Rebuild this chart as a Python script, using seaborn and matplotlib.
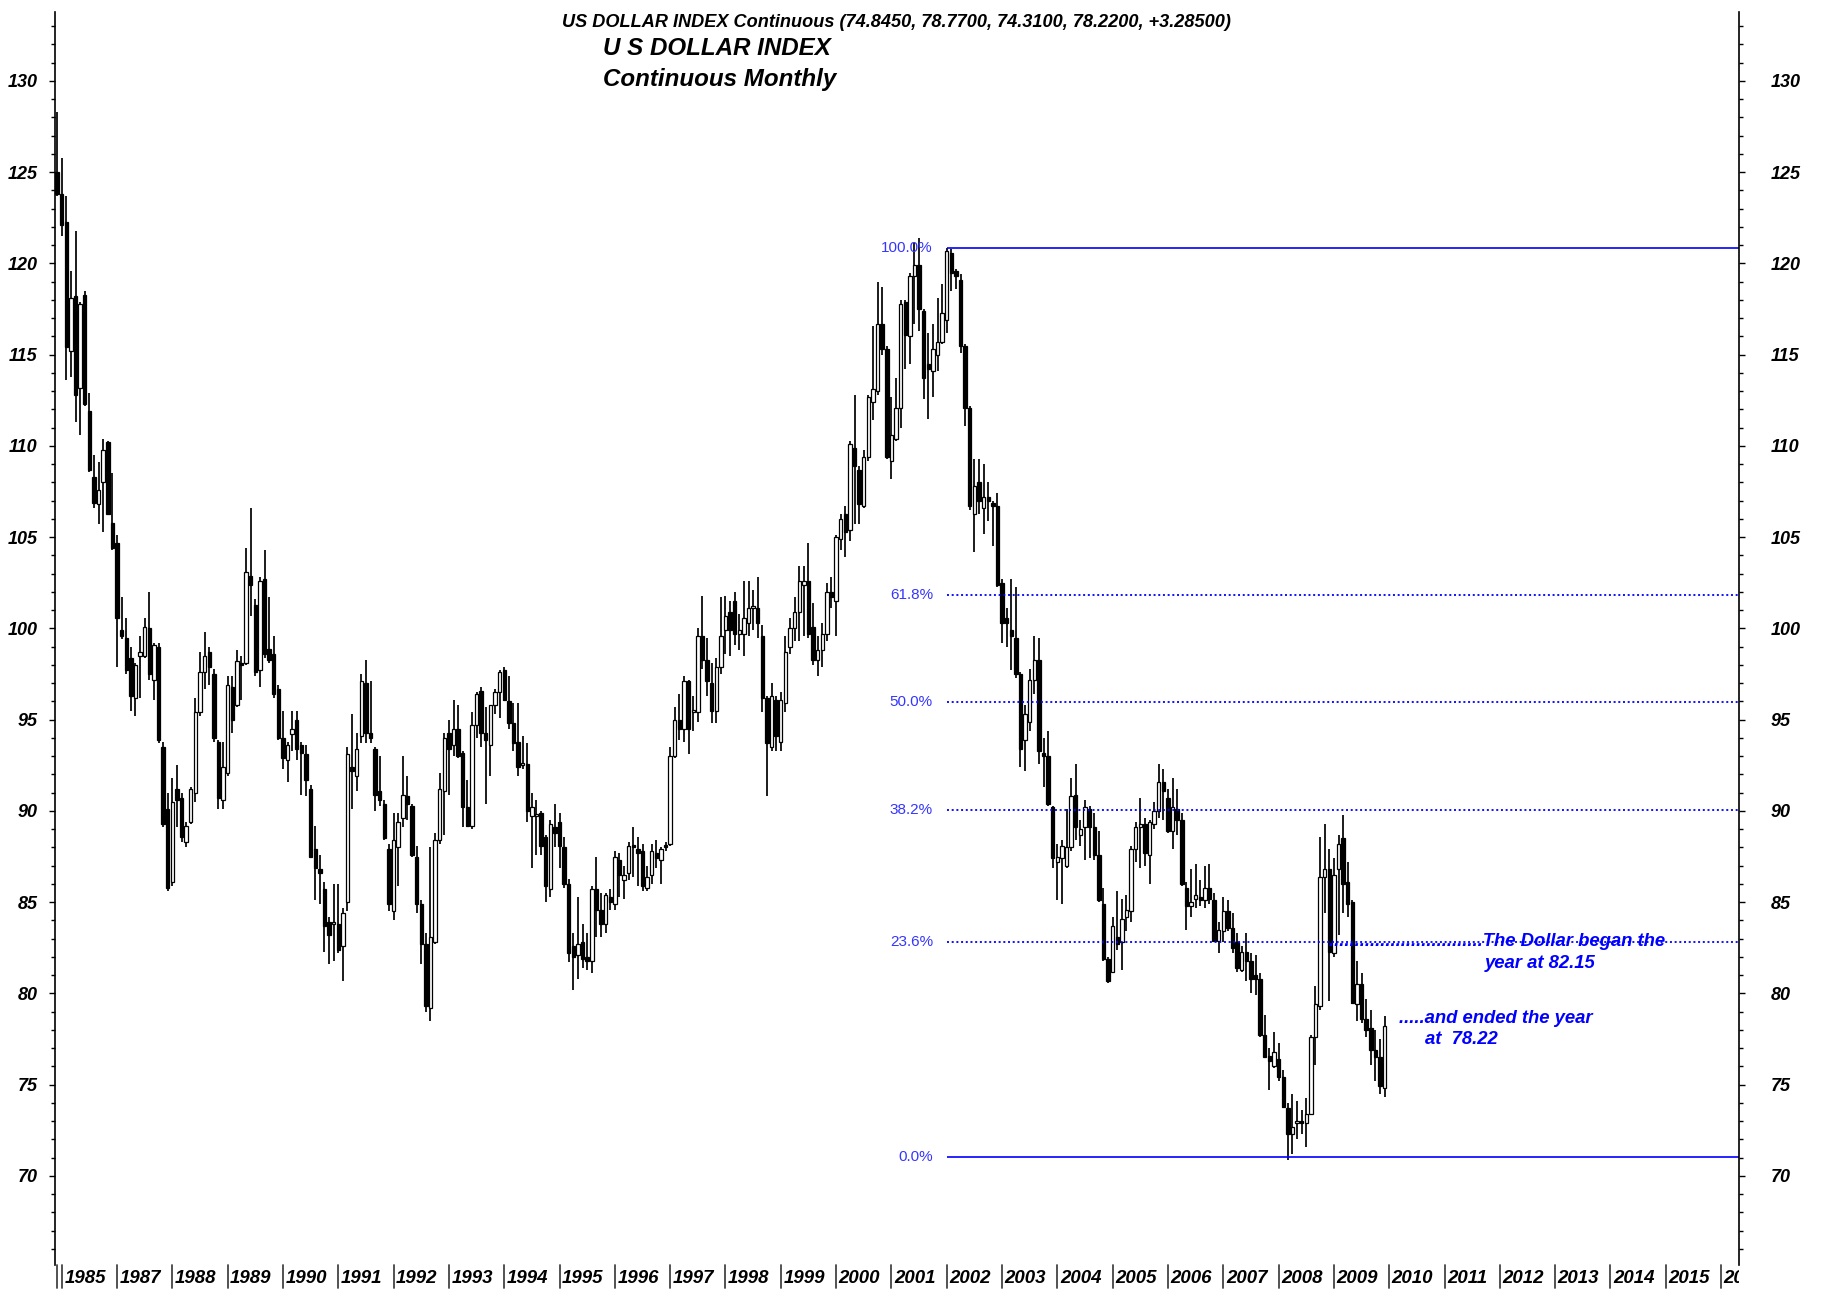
import numpy as np
import pandas as pd
import matplotlib
matplotlib.use("Agg")
import matplotlib.pyplot as plt
import matplotlib.transforms as mtransforms
from matplotlib.ticker import MultipleLocator, FormatStrFormatter
import seaborn as sns

# monthly candles, first bar is Dec 1985, last is Dec 2009
first_month = "1985-12"

opens = [
    125.0,
    123.8, 122.3, 115.2, 118.2, 113.2, 118.3, 111.9, 108.3, 106.8, 108.0, 110.2, 105.8,  # 1986
    104.7, 99.9, 99.5, 98.4, 96.2, 98.5, 98.5, 100.0, 97.2, 99.0, 93.5, 90.1,  # 1987
    86.1, 91.2, 90.7, 88.3, 89.4, 91.0, 95.4, 97.6, 98.7, 97.5, 93.8, 90.6,  # 1988
    92.1, 96.8, 95.8, 98.1, 98.1, 102.9, 101.3, 97.7, 102.7, 98.9, 98.6, 96.7,  # 1989
    94.0, 92.8, 94.2, 95.0, 93.6, 93.1, 91.2, 87.9, 86.8, 85.7, 83.9, 83.8,  # 1990
    83.8, 82.6, 85.0, 92.4, 91.9, 94.1, 97.0, 94.3, 93.4, 91.1, 90.4, 87.9,  # 1991
    84.5, 88.0, 89.6, 90.8, 90.3, 87.5, 84.9, 82.7, 79.2, 82.8, 88.4, 91.1,  # 1992
    94.3, 93.6, 94.5, 93.2, 90.2, 89.2, 94.7, 96.6, 94.3, 93.6, 95.8, 96.5,  # 1993
    97.7, 96.0, 94.8, 93.8, 92.5, 92.6, 89.7, 89.7, 89.9, 88.6, 85.7, 89.1,  # 1994
    89.4, 88.0, 86.0, 82.6, 82.1, 82.8, 82.0, 81.8, 85.7, 84.6, 83.8, 85.3,  # 1995
    84.9, 87.3, 86.2, 86.6, 88.1, 87.9, 87.8, 85.8, 86.5, 87.7, 87.3, 88.1,  # 1996
    88.2, 93.0, 95.0, 94.5, 97.1, 95.4, 95.4, 99.6, 98.3, 97.0, 95.5, 97.9,  # 1997
    99.9, 100.9, 101.5, 99.7, 99.7, 100.3, 101.1, 101.1, 99.6, 96.2, 93.5, 96.1,  # 1998
    93.8, 95.9, 99.0, 100.0, 100.9, 102.4, 102.6, 100.1, 98.3, 98.8, 99.7, 102.0,  # 1999
    101.5, 104.9, 106.3, 105.4, 109.9, 108.7, 106.7, 109.4, 112.4, 113.0, 116.7, 115.3,  # 2000
    109.2, 110.4, 112.1, 117.9, 116.0, 119.3, 119.9, 117.4, 114.5, 114.1, 115.0, 115.7,  # 2001
    116.9, 120.6, 119.6, 119.1, 115.5, 112.1, 106.3, 108.0, 106.6, 107.2, 106.9, 106.7,  # 2002
    102.5, 100.6, 99.9, 99.5, 97.5, 93.9, 94.9, 97.2, 98.3, 93.2, 93.0, 90.2,  # 2003
    87.2, 87.4, 87.0, 88.0, 90.9, 88.7, 89.1, 90.1, 89.1, 87.6, 84.9, 81.9,  # 2004
    81.2, 83.1, 82.8, 84.2, 84.5, 87.9, 89.1, 89.3, 87.6, 89.3, 90.0, 91.6,  # 2005
    90.7, 88.9, 90.1, 89.5, 85.8, 84.8, 85.2, 85.3, 85.1, 85.8, 85.1, 82.9,  # 2006
    83.4, 84.5, 83.6, 82.8, 81.3, 82.3, 81.8, 81.0, 80.8, 77.7, 76.6, 76.0,  # 2007
    76.4, 75.4, 73.7, 72.3, 72.9, 73.0, 72.9, 73.4, 77.6, 79.3, 86.4, 86.8,  # 2008
    82.2, 86.8, 88.5, 86.1, 85.0, 79.4, 80.5, 78.6, 78.1, 76.9, 76.5, 74.845,  # 2009
]

highs = [
    128.3,
    125.8, 123.7, 119.6, 121.8, 117.9, 118.5, 112.9, 109.5, 109.1, 110.4, 110.3, 108.5,
    105.1, 101.7, 100.6, 99.0, 98.1, 99.6, 100.6, 102.0, 99.2, 99.2, 93.8, 91.0,
    91.8, 92.5, 91.0, 89.4, 91.3, 96.2, 98.7, 99.8, 99.0, 97.8, 93.9, 93.8,
    97.4, 97.4, 98.8, 98.5, 104.4, 106.6, 101.6, 102.8, 104.3, 101.7, 99.6, 96.9,
    95.5, 93.8, 95.5, 95.5, 93.8, 93.6, 91.4, 89.2, 87.6, 86.1, 84.2, 86.0,
    86.0, 84.7, 93.5, 95.3, 94.3, 97.5, 98.3, 97.1, 93.5, 93.0, 90.6, 88.2,
    89.9, 89.9, 93.0, 91.9, 90.4, 88.1, 85.1, 83.3, 88.0, 88.8, 92.1, 94.3,
    95.0, 96.1, 95.8, 93.3, 91.7, 95.4, 96.5, 96.8, 95.7, 95.8, 96.7, 97.7,
    97.9, 97.4, 95.9, 95.9, 94.1, 93.7, 91.0, 90.6, 90.0, 88.7, 89.5, 90.4,
    89.9, 88.6, 86.3, 83.3, 85.3, 83.8, 83.3, 85.9, 87.5, 85.5, 85.5, 85.7,
    87.8, 87.7, 87.0, 88.3, 89.1, 88.6, 88.2, 87.0, 88.2, 88.4, 88.0, 88.3,
    93.5, 95.7, 96.4, 97.4, 97.2, 96.3, 100.0, 101.8, 99.5, 98.1, 98.4, 101.7,
    101.8, 101.5, 102.0, 100.8, 102.6, 102.6, 102.1, 102.8, 100.2, 96.3, 97.0, 96.3,
    96.5, 99.6, 100.6, 101.7, 103.4, 103.4, 104.7, 101.4, 99.6, 100.3, 102.5, 102.8,
    105.1, 106.3, 106.7, 110.3, 112.8, 108.9, 109.8, 112.8, 116.6, 119.0, 118.7, 115.5,
    112.7, 113.7, 118.0, 118.0, 119.5, 121.1, 121.4, 117.5, 116.2, 116.7, 118.1, 118.9,
    120.87, 120.8, 119.7, 119.4, 115.6, 112.2, 109.3, 109.3, 109.0, 108.0, 107.0, 107.4,
    102.7, 101.1, 102.7, 102.3, 97.6, 95.8, 97.8, 99.6, 99.5, 94.0, 94.4, 90.3,
    88.2, 88.4, 90.1, 91.8, 92.6, 89.5, 90.6, 90.3, 89.9, 88.9, 85.8, 82.0,
    84.2, 85.6, 85.2, 85.4, 88.1, 89.4, 90.7, 89.6, 89.5, 90.5, 92.6, 92.3,
    91.2, 91.8, 91.2, 89.9, 86.1, 86.8, 87.1, 86.2, 87.0, 87.1, 85.5, 83.9,
    85.3, 85.1, 84.4, 83.3, 82.6, 83.3, 82.2, 82.1, 81.1, 78.8, 77.0, 77.9,
    77.3, 75.8, 74.0, 74.5, 74.1, 73.6, 74.3, 77.7, 80.4, 88.6, 89.3, 87.9,
    87.4, 88.7, 89.8, 87.2, 85.1, 81.8, 81.1, 79.7, 79.1, 78.0, 77.5, 78.77,
]

lows = [
    123.7,
    121.5, 113.6, 113.8, 111.3, 110.6, 112.2, 108.6, 106.6, 105.7, 105.3, 106.2, 104.3,
    97.9, 99.4, 97.5, 95.5, 95.2, 96.2, 98.4, 97.2, 96.1, 93.7, 89.1, 85.6,
    85.9, 89.1, 88.3, 88.0, 89.3, 90.5, 95.2, 96.7, 96.9, 93.8, 90.1, 90.1,
    91.9, 94.3, 95.7, 96.1, 98.0, 100.7, 97.4, 96.8, 98.4, 98.1, 96.2, 93.9,
    92.3, 91.6, 93.3, 92.8, 90.9, 90.8, 87.4, 85.1, 84.9, 82.3, 81.6, 81.8,
    82.2, 80.7, 84.5, 90.1, 91.1, 93.7, 93.7, 93.7, 90.0, 90.3, 88.4, 84.5,
    84.0, 85.9, 89.1, 89.5, 87.5, 84.4, 81.6, 79.0, 78.5, 82.7, 88.2, 88.7,
    90.9, 93.0, 92.9, 89.1, 89.1, 89.0, 94.0, 93.5, 90.4, 91.9, 95.3, 95.1,
    96.0, 94.5, 93.3, 91.9, 92.3, 89.4, 86.9, 87.6, 87.6, 85.0, 85.3, 88.0,
    86.9, 85.8, 81.7, 80.2, 80.8, 81.4, 81.3, 81.1, 83.1, 83.1, 83.3, 84.6,
    84.6, 85.3, 85.2, 86.2, 86.4, 85.9, 85.6, 85.6, 86.0, 86.9, 86.0, 87.8,
    88.1, 92.9, 93.9, 93.8, 93.1, 94.4, 94.9, 97.8, 96.3, 94.8, 94.8, 97.5,
    98.6, 98.5, 99.1, 98.8, 98.5, 99.6, 99.9, 99.5, 95.4, 90.8, 93.3, 93.3,
    93.3, 95.4, 98.6, 99.3, 99.3, 99.6, 99.5, 98.0, 97.4, 97.9, 99.3, 101.1,
    99.6, 104.3, 103.9, 104.8, 105.7, 105.7, 106.6, 109.2, 111.4, 112.8, 115.0, 109.3,
    108.2, 110.3, 111.0, 114.2, 114.5, 116.7, 116.3, 112.6, 111.5, 112.7, 114.1, 115.6,
    116.2, 118.5, 118.6, 115.1, 111.1, 106.5, 104.2, 106.3, 105.2, 105.9, 104.5, 102.3,
    99.2, 99.0, 97.7, 97.3, 92.4, 92.2, 94.4, 96.4, 92.6, 91.3, 90.3, 86.9,
    85.1, 84.9, 86.9, 87.8, 88.4, 88.1, 87.3, 87.4, 87.3, 85.0, 81.8, 80.6,
    81.1, 82.4, 81.3, 83.4, 83.9, 87.2, 86.9, 87.0, 86.0, 89.0, 89.6, 89.5,
    88.8, 87.9, 88.7, 85.9, 83.5, 84.2, 84.7, 84.8, 84.7, 84.9, 82.8, 82.2,
    82.8, 83.4, 82.2, 81.2, 81.2, 80.7, 80.0, 79.9, 77.6, 76.5, 74.7, 75.9,
    75.2, 73.7, 70.88, 71.2, 72.0, 72.3, 71.6, 73.4, 76.1, 79.1, 84.4, 79.6,
    82.0, 83.2, 84.4, 84.2, 79.4, 78.5, 78.4, 77.6, 76.1, 75.2, 74.5, 74.31,
]

closes = [
    123.8,
    122.1, 115.4, 118.1, 112.8, 117.8, 112.3, 108.7, 106.9, 107.6, 109.8, 106.3, 104.4,
    100.6, 99.6, 97.7, 96.3, 98.0, 98.7, 100.1, 97.5, 99.1, 93.9, 89.3, 85.8,
    90.5, 90.6, 88.6, 89.2, 91.2, 95.4, 97.6, 98.5, 97.9, 94.0, 90.7, 92.4,
    96.9, 95.0, 98.2, 98.0, 103.1, 102.4, 97.6, 102.6, 98.6, 98.3, 96.4, 94.0,
    92.9, 93.6, 94.5, 93.4, 93.2, 91.7, 87.5, 86.9, 86.6, 83.7, 83.2, 83.9,
    82.4, 84.4, 93.1, 92.2, 93.4, 97.1, 94.3, 94.0, 90.9, 90.6, 88.5, 84.9,
    88.4, 89.4, 90.9, 90.4, 87.6, 84.9, 82.7, 79.3, 83.1, 88.4, 91.2, 94.0,
    93.4, 94.5, 93.0, 90.2, 89.2, 94.7, 96.4, 94.3, 93.9, 95.8, 96.5, 97.6,
    96.1, 94.8, 93.7, 92.4, 92.6, 90.0, 90.2, 89.8, 88.1, 85.9, 89.3, 88.8,
    88.1, 86.0, 82.2, 82.0, 82.7, 81.9, 81.8, 85.7, 84.6, 83.8, 85.4, 85.0,
    87.5, 86.5, 86.5, 88.1, 88.0, 87.7, 85.9, 86.4, 87.8, 87.4, 87.9, 88.0,
    93.0, 95.0, 94.5, 97.1, 94.5, 95.5, 99.6, 98.3, 97.1, 95.5, 97.9, 99.6,
    100.7, 99.9, 99.7, 99.9, 100.6, 101.1, 101.2, 100.3, 96.2, 93.7, 96.3, 94.1,
    96.1, 98.7, 100.0, 100.9, 102.6, 102.6, 99.7, 98.3, 98.8, 99.7, 102.0, 101.7,
    105.0, 106.0, 105.3, 110.1, 108.9, 106.8, 109.4, 112.7, 113.1, 116.7, 115.3, 109.4,
    110.6, 112.1, 117.8, 116.1, 119.3, 119.9, 117.5, 113.7, 114.2, 115.3, 115.7, 117.3,
    120.7, 119.5, 119.3, 115.5, 112.1, 106.7, 107.8, 107.0, 107.2, 107.0, 106.7, 102.4,
    100.3, 100.3, 99.6, 97.5, 93.4, 95.3, 97.2, 98.3, 93.3, 93.0, 90.4, 87.4,
    87.5, 88.1, 88.0, 90.8, 89.1, 89.0, 90.2, 89.1, 87.6, 85.1, 81.9, 80.7,
    83.7, 82.7, 84.1, 84.6, 87.9, 89.1, 89.3, 87.7, 89.4, 90.0, 91.6, 91.1,
    88.9, 90.2, 89.5, 86.0, 84.8, 85.0, 85.4, 85.1, 85.8, 85.2, 82.9, 83.5,
    84.5, 83.6, 82.5, 81.4, 82.3, 81.8, 80.8, 80.8, 77.7, 76.5, 76.3, 76.8,
    75.4, 73.8, 72.3, 72.7, 73.0, 72.9, 73.4, 77.6, 79.4, 86.4, 86.8, 82.3,
    86.5, 88.2, 86.0, 84.9, 79.5, 80.5, 78.6, 78.0, 76.9, 76.5, 74.94, 78.22,
]

# retracement drawn from the Jan 2002 high down to the 2008 low
fib_high = 120.87
fib_low = 71.04
fib_start = "2002-01"
fib_ratios = [0.0, 0.236, 0.382, 0.5, 0.618, 1.0]
fib_labels = ["0.0%", "23.6%", "38.2%", "50.0%", "61.8%", "100.0%"]

year_labels = [1985] + list(range(1987, 2017))

title_top = "US DOLLAR INDEX Continuous (74.8450, 78.7700, 74.3100, 78.2200, +3.28500)"
title_1 = "U S DOLLAR INDEX"
title_2 = "Continuous Monthly"
note_began = ".............................." + "The Dollar began the"
note_began_2 = "year at 82.15"
note_ended = ".....and ended the year"
note_ended_2 = "at  78.22"


def month_idx(period):
    # months counted from Jan 1985
    return (period.year - 1985) * 12 + period.month - 1


sns.set_theme(style="white")
plt.rcParams["font.family"] = ["Liberation Sans", "DejaVu Sans"]
plt.rcParams["font.weight"] = "bold"
plt.rcParams["font.style"] = "italic"
plt.rcParams["text.color"] = "black"
plt.rcParams["ytick.color"] = "black"
plt.rcParams["ytick.labelcolor"] = "black"

dates = pd.period_range(first_month, periods=len(closes), freq="M")
df = pd.DataFrame({"date": dates, "open": opens, "high": highs,
                   "low": lows, "close": closes})
df["x"] = (df["date"].dt.year - 1985) * 12 + df["date"].dt.month - 1
df["up"] = df["close"] >= df["open"]
df["bottom"] = df[["open", "close"]].min(axis=1)
df["body"] = (df["close"] - df["open"]).abs().clip(lower=0.12)

fig = plt.figure(figsize=(18.22, 12.91), dpi=100)
ax = fig.add_axes([0.0302, 0.0201, 0.9243, 0.9706])
ax.set_facecolor("white")

# candles
ax.vlines(df["x"], df["low"], df["high"], color="black", lw=1.25, zorder=2)
ax.bar(df["x"], df["body"], bottom=df["bottom"], width=0.74,
       color=np.where(df["up"], "white", "black"), edgecolor="black",
       linewidth=0.9, zorder=3)

xmin, xmax = 10.55, 375.9
ymin, ymax = 65.12, 133.78
ax.set_xlim(xmin, xmax)
ax.set_ylim(ymin, ymax)

# fibonacci levels
x0 = month_idx(pd.Period(fib_start, freq="M"))
for r, lab in zip(fib_ratios, fib_labels):
    lvl = fib_low + r * (fib_high - fib_low)
    if r in (0.0, 1.0):
        ax.hlines(lvl, x0, xmax, color="#0000ff", lw=1.2, zorder=4)
    else:
        ax.hlines(lvl, x0, xmax, color="#0000ff", lw=1.3,
                  linestyles=[(0, (1.1, 1.5))], zorder=4)
    ax.text(x0 - 3.0, lvl, lab, ha="right", va="center", fontsize=11,
            color="#3535ff", fontweight="normal", style="normal", zorder=5)

# notes
blue = "#0000ff"
ax.text(287, 82.62, note_began, ha="left", va="baseline", fontsize=13.3,
        color=blue, zorder=5)
ax.text(320.8, 81.42, note_began_2, ha="left", va="baseline", fontsize=13.3,
        color=blue, zorder=5)
ax.text(302.1, 78.38, note_ended, ha="left", va="baseline", fontsize=13.3,
        color=blue, zorder=5)
ax.text(307.7, 77.23, note_ended_2, ha="left", va="baseline", fontsize=13.3,
        color=blue, zorder=5)

# y axes (left and right)
for s in ["top", "bottom", "right"]:
    ax.spines[s].set_visible(False)
ax.spines["left"].set_color("black")
ax.spines["left"].set_linewidth(1.2)
ax.yaxis.set_major_locator(MultipleLocator(5))
ax.yaxis.set_minor_locator(MultipleLocator(1))
ax.yaxis.set_major_formatter(FormatStrFormatter("%d"))
ax.tick_params(axis="y", which="both", left=True, direction="out",
               color="black", labelcolor="black", width=1.0, labelsize=13,
               pad=8)
ax.tick_params(axis="y", which="major", length=4.5)
ax.tick_params(axis="y", which="minor", length=3)
ax.set_xticks([])
ax.grid(False)

ax2 = ax.twinx()
ax2.set_ylim(ymin, ymax)
for s in ["top", "bottom", "left"]:
    ax2.spines[s].set_visible(False)
ax2.spines["right"].set_color("black")
ax2.spines["right"].set_linewidth(1.2)
ax2.yaxis.set_major_locator(MultipleLocator(5))
ax2.yaxis.set_minor_locator(MultipleLocator(1))
ax2.yaxis.set_major_formatter(FormatStrFormatter("%d"))
ax2.tick_params(axis="y", which="both", right=True, direction="out",
                color="black", labelcolor="black", width=1.0, labelsize=13,
                pad=18)
ax2.tick_params(axis="y", which="major", length=4.5)
ax2.tick_params(axis="y", which="minor", length=3)
ax2.grid(False)

# year markers along the bottom
trans = mtransforms.blended_transform_factory(ax.transData, ax.transAxes)
clip = mtransforms.TransformedBbox(mtransforms.Bbox([[0, 0], [0.9545, 1]]),
                                   fig.transFigure)
tick_pos = [11, 12] + [(y - 1985) * 12 for y in year_labels[1:]]
for xp in tick_pos:
    ax.plot([xp, xp], [0, -0.0184], transform=trans, clip_on=False,
            color="#444444", lw=1.3)
for y in year_labels:
    xp = 12 if y == 1985 else (y - 1985) * 12
    t = ax.text(xp + 0.55, -0.0104, str(y), transform=trans, ha="left",
                va="center", fontsize=13.4, color="black")
    t.set_clip_box(clip)
    t.set_clip_on(True)

# titles
fig.text(0.4918, 0.9822, title_top, ha="center", va="center", fontsize=13.1)
fig.text(0.331, 0.9627, title_1, ha="left", va="center", fontsize=17.4)
fig.text(0.331, 0.9385, title_2, ha="left", va="center", fontsize=17.4)

fig.savefig("out.png", dpi=100)
